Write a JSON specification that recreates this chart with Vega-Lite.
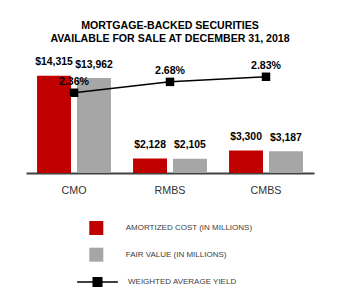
{
  "$schema": "https://vega.github.io/schema/vega-lite/v6.json",
  "autosize": {"type": "none"},
  "padding": {"left": 26, "top": 63, "right": 26, "bottom": 127},
  "width": 288,
  "height": 110,
  "background": "white",
  "config": {
    "view": {"stroke": null},
    "font": "Liberation Sans"
  },
  "title": {
    "text": ["MORTGAGE-BACKED SECURITIES", "AVAILABLE FOR SALE AT DECEMBER 31, 2018"],
    "fontSize": 10.6,
    "fontWeight": "bold",
    "font": "Liberation Sans",
    "color": "#000000",
    "lineHeight": 12.7,
    "anchor": "middle",
    "offset": 13
  },
  "datasets": {
    "bars": [
      {"category": "CMO", "series": "AMORTIZED COST (IN MILLIONS)", "value": 14315},
      {"category": "CMO", "series": "FAIR VALUE (IN MILLIONS)", "value": 13962},
      {"category": "RMBS", "series": "AMORTIZED COST (IN MILLIONS)", "value": 2128},
      {"category": "RMBS", "series": "FAIR VALUE (IN MILLIONS)", "value": 2105},
      {"category": "CMBS", "series": "AMORTIZED COST (IN MILLIONS)", "value": 3300},
      {"category": "CMBS", "series": "FAIR VALUE (IN MILLIONS)", "value": 3187}
    ],
    "yields": [
      {"category": "CMO", "series": "WEIGHTED AVERAGE YIELD", "yield": 0.0236},
      {"category": "RMBS", "series": "WEIGHTED AVERAGE YIELD", "yield": 0.0268},
      {"category": "CMBS", "series": "WEIGHTED AVERAGE YIELD", "yield": 0.0283}
    ]
  },
  "encoding": {
    "x": {
      "field": "category",
      "type": "nominal",
      "sort": ["CMO", "RMBS", "CMBS"],
      "scale": {"paddingInner": 0.23, "paddingOuter": 0.115},
      "axis": {
        "title": null,
        "labelAngle": 0,
        "ticks": false,
        "domainColor": "#404040",
        "domainWidth": 2,
        "labelFontSize": 10.7,
        "labelColor": "#333333",
        "labelFont": "Liberation Sans",
        "labelPadding": 12
      }
    }
  },
  "layer": [
    {
      "layer": [
        {
          "data": {"name": "bars"},
          "mark": {"type": "bar"},
          "encoding": {
            "xOffset": {
              "field": "series",
              "type": "nominal",
              "scale": {"paddingInner": 0.15, "paddingOuter": 0}
            },
            "y": {
              "field": "value",
              "type": "quantitative",
              "scale": {"domain": [0, 16176], "nice": false, "zero": true},
              "axis": null
            },
            "color": {
              "field": "series",
              "type": "nominal",
              "scale": {
                "domain": ["AMORTIZED COST (IN MILLIONS)", "FAIR VALUE (IN MILLIONS)"],
                "range": ["#C00000", "#A6A6A6"]
              },
              "legend": {
                "title": null,
                "orient": "none",
                "legendX": 63.3,
                "legendY": 158,
                "symbolType": "square",
                "symbolSize": 196,
                "symbolStrokeWidth": 0,
                "rowPadding": 12.7,
                "labelOffset": 22.4,
                "labelFontSize": 8,
                "labelFont": "Liberation Sans",
                "labelColor": "#404040",
                "labelLimit": 300,
                "padding": 0
              }
            }
          }
        },
        {
          "data": {"name": "bars"},
          "mark": {"type": "text", "baseline": "alphabetic", "dy": -10.5, "fontSize": 10.4, "fontWeight": "bold", "font": "Liberation Sans", "color": "#000000"},
          "encoding": {
            "xOffset": {
              "field": "series",
              "type": "nominal",
              "scale": {"paddingInner": 0.15, "paddingOuter": 0}
            },
            "y": {
              "field": "value",
              "type": "quantitative",
              "scale": {"domain": [0, 16176], "nice": false, "zero": true},
              "axis": null
            },
            "text": {"field": "value", "type": "quantitative", "format": "$,.0f"}
          }
        }
      ]
    },
    {
      "layer": [
        {
          "data": {"name": "yields"},
          "mark": {"type": "line", "strokeWidth": 1.5},
          "encoding": {
            "y": {
              "field": "yield",
              "type": "quantitative",
              "scale": {"domain": [0, 0.03235], "nice": false, "zero": true},
              "axis": null
            },
            "stroke": {
              "field": "series",
              "type": "nominal",
              "scale": {"domain": ["WEIGHTED AVERAGE YIELD"], "range": ["#000000"]},
              "legend": {
                "title": null,
                "orient": "none",
                "legendX": 50,
                "legendY": 197.6,
                "symbolType": "M-1,0H1M-0.21,-0.21H0.21V0.21H-0.21Z",
                "symbolSize": 1656,
                "symbolStrokeWidth": 1.5,
                "labelOffset": 9,
                "labelFontSize": 8,
                "labelFont": "Liberation Sans",
                "labelColor": "#404040",
                "labelLimit": 300,
                "padding": 0,
                "encode": {"symbols": {"update": {"fill": {"value": "#000000"}, "stroke": {"value": "#000000"}}}}
              }
            }
          }
        },
        {
          "data": {"name": "yields"},
          "mark": {"type": "point", "shape": "square", "filled": true, "size": 72, "color": "#000000", "opacity": 1},
          "encoding": {
            "y": {
              "field": "yield",
              "type": "quantitative",
              "scale": {"domain": [0, 0.03235], "nice": false, "zero": true},
              "axis": null
            }
          }
        },
        {
          "data": {"name": "yields"},
          "mark": {"type": "text", "baseline": "alphabetic", "dy": -8, "fontSize": 10.6, "fontWeight": "bold", "font": "Liberation Sans", "color": "#000000"},
          "encoding": {
            "y": {
              "field": "yield",
              "type": "quantitative",
              "scale": {"domain": [0, 0.03235], "nice": false, "zero": true},
              "axis": null
            },
            "text": {"field": "yield", "type": "quantitative", "format": ".2%"}
          }
        }
      ]
    }
  ],
  "resolve": {"scale": {"y": "independent"}}
}
